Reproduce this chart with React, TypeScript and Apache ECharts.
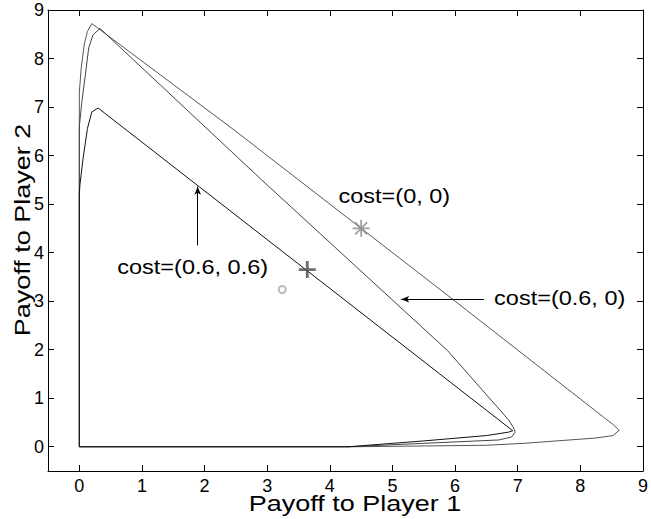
import React, { useEffect, useRef } from 'react';
import * as echarts from 'echarts';

// cost = (0, 0)  (outer region)
const outerX = [0, 4.4, 6.5, 7.1, 8.25, 8.52, 8.62, 8.52, 8.38, 6.0, 4.5, 2.5, 0.2, 0.13, 0.08, 0.03, 0, 0];
const outerY = [0, 0, 0.03, 0.07, 0.18, 0.23, 0.34, 0.46, 0.6, 3.0, 4.5, 6.5, 8.72, 8.56, 8.3, 7.8, 7.3, 0];
// cost = (0.6, 0)  (middle region)
const middleX = [0, 4.3, 5.5, 6.7, 6.9, 6.96, 6.93, 6.85, 5.88, 2.91, 0.33, 0.22, 0.15, 0.1, 0.04, 0, 0];
const middleY = [0, 0, 0.07, 0.14, 0.2, 0.3, 0.4, 0.56, 1.98, 5.5, 8.62, 8.49, 8.22, 7.7, 7.1, 6.6, 0];
// cost = (0.6, 0.6)  (inner region)
const innerX = [0, 4.3, 5.5, 6.5, 6.85, 6.92, 0.3, 0.2, 0.13, 0.06, 0.01, 0, 0];
const innerY = [0, 0, 0.12, 0.23, 0.3, 0.33, 6.98, 6.9, 6.56, 5.94, 5.4, 5.2, 0];

// points
const starPoint = [4.5, 4.5];
const plusPoint = [3.64, 3.65];
const circlePoint = [3.24, 3.24];

// annotations
const labelTexts = ['cost=(0, 0)', 'cost=(0.6, 0)', 'cost=(0.6, 0.6)'];
const labelPos = [[5.03, 5.17], [7.67, 3.06], [1.81, 3.7]];
const arrowFrom = [[6.46, 3.04], [1.89, 4.15]];
const arrowTo = [[5.14, 3.04], [1.89, 5.36]];

const xTitle = 'Payoff to Player 1';
const yTitle = 'Payoff to Player 2';

const FONT = '"Liberation Sans", Arial, Helvetica, sans-serif';

const zip = (xs: number[], ys: number[]) => xs.map((x, i) => [x, ys[i]]);

export default function App() {
  const ref = useRef<HTMLDivElement>(null);
  useEffect(() => {
    if (!ref.current) return;
    const chart = echarts.init(ref.current, undefined, { renderer: 'svg' });
    const axisCommon = {
      type: 'value' as const,
      min: -0.5,
      max: 9,
      splitNumber: 10,
      minInterval: 1,
      maxInterval: 1,
      splitLine: { show: false },
      axisLine: { show: true, onZero: false, lineStyle: { color: '#000', width: 1 } },
      axisTick: { show: true, inside: true, length: 6, lineStyle: { color: '#000', width: 1 } },
    };
    const labelFmt = (v: number) => (Math.abs(v - Math.round(v)) < 1e-6 ? String(Math.round(v)) : '');
    const lineSeries = (data: number[][], color: string) => ({
      type: 'line',
      data,
      showSymbol: false,
      symbol: 'none',
      lineStyle: { color, width: 1 },
      silent: true,
      z: 2,
    });
    chart.setOption({
      animation: false,
      backgroundColor: '#fff',
      grid: { left: 48, right: 4, top: 10, bottom: 48, containLabel: false },
      xAxis: [
        {
          ...axisCommon,
          position: 'bottom',
          axisLabel: { show: true, formatter: labelFmt, color: '#000', fontSize: 18, fontFamily: FONT, margin: 6, showMinLabel: false },
        },
        { ...axisCommon, position: 'top', axisLabel: { show: false } },
      ],
      yAxis: [
        {
          ...axisCommon,
          position: 'left',
          axisLabel: { show: true, formatter: labelFmt, color: '#000', fontSize: 18, fontFamily: FONT, margin: 4, showMinLabel: false },
        },
        { ...axisCommon, position: 'right', axisLabel: { show: false } },
      ],
      series: [
        lineSeries(zip(outerX, outerY), '#555'),
        lineSeries(zip(middleX, middleY), '#444'),
        {
          ...lineSeries(zip(innerX, innerY), '#111'),
          markLine: {
            silent: true,
            symbol: ['none', 'arrow'],
            symbolSize: [5, 8],
            label: { show: false },
            lineStyle: { color: '#000', width: 1, type: 'solid' },
            data: arrowFrom.map((f, i) => [{ coord: f }, { coord: arrowTo[i] }]),
          },
        },
        {
          type: 'scatter',
          data: [starPoint],
          symbol: 'path://M0,-10L0,10M-10,0L10,0M-7,-7L7,7M-7,7L7,-7',
          symbolSize: 17,
          itemStyle: { color: 'transparent', borderColor: '#888', borderWidth: 1.8 },
          z: 5,
        },
        {
          type: 'scatter',
          data: [plusPoint],
          symbol: 'path://M0,-10L0,10M-10,0L10,0',
          symbolSize: 17,
          itemStyle: { color: 'transparent', borderColor: '#4a4a4a', borderWidth: 2.8 },
          z: 5,
        },
        {
          type: 'scatter',
          data: [circlePoint],
          symbol: 'circle',
          symbolSize: 7,
          itemStyle: { color: 'transparent', borderColor: '#aaa', borderWidth: 2 },
          z: 5,
        },
      ],
    });

    const texts = labelTexts.map((t, i) => {
      const p = chart.convertToPixel({ gridIndex: 0 }, labelPos[i]) as number[];
      return {
        type: 'text',
        x: p[0],
        y: p[1],
        scaleY: 0.86,
        silent: true,
        style: {
          text: t,
          font: `23.5px ${FONT}`,
          fill: '#000',
          textAlign: 'center',
          textVerticalAlign: 'middle',
        },
      };
    });
    chart.setOption({
      graphic: [
        ...texts,
        {
          type: 'text',
          x: 355,
          y: 503,
          scaleY: 0.82,
          silent: true,
          style: { text: xTitle, font: `27px ${FONT}`, fill: '#000', textAlign: 'center', textVerticalAlign: 'middle' },
        },
        {
          type: 'text',
          x: 22,
          y: 230,
          rotation: Math.PI / 2,
          scaleY: 0.82,
          silent: true,
          style: { text: yTitle, font: `27px ${FONT}`, fill: '#000', textAlign: 'center', textVerticalAlign: 'middle' },
        },
      ],
    });
    return () => chart.dispose();
  }, []);
  return <div ref={ref} style={{ width: 651, height: 519, position: 'absolute', left: 0, top: 0 }} />;
}
